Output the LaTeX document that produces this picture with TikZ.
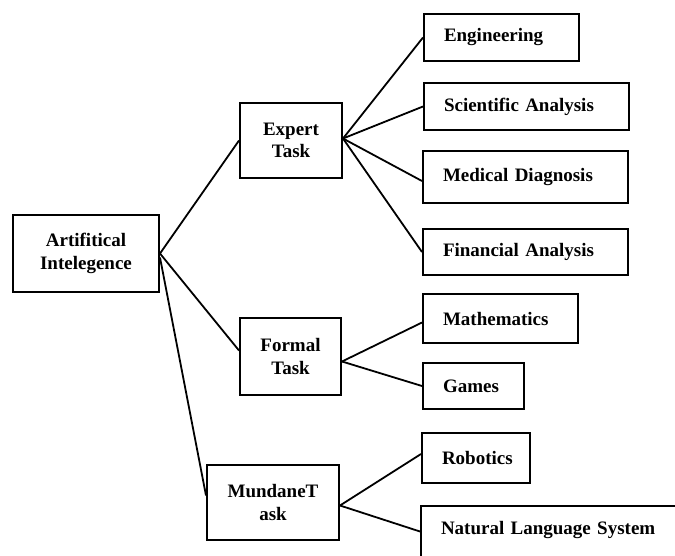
\documentclass[tikz,border=0pt]{standalone}
\usepackage{fontspec}
\setmainfont{Liberation Serif}
\begin{document}
\begin{tikzpicture}[x=1pt,y=1pt,
  every node/.style={font=\fontsize{19}{22.5}\selectfont\bfseries},
  hub/.style={draw, line width=2pt, align=center, inner sep=0pt},
  leaf/.style={draw, line width=2pt, anchor=north west, align=left,
               inner xsep=20pt, inner ysep=0pt, text width=#1},
  link/.style={line width=1.8pt}]
\useasboundingbox (0,0) rectangle (675,-555);
\clip (0,0) rectangle (675,-555);

% root and task groups
\node[hub, minimum width=146, minimum height=77] (AI) at (86,-253.5) {Artifitical\\Intelegence};
\node[hub, minimum width=102, minimum height=75] (Expert) at (291,-140.5) {Expert\\Task};
\node[hub, minimum width=101, minimum height=77] (Formal) at (290.5,-356.5) {Formal\\Task};
\node[hub, minimum width=132, minimum height=75] (Mundane) at (273,-502.5) {MundaneT\\ask};

% application areas
\node[leaf=115, minimum height=47] (Eng) at (423,-13) {Engineering};
\node[leaf=165, minimum height=47] (Sci) at (423,-82) {Scientific Analysis};
\node[leaf=165, minimum height=52] (Med) at (422,-150) {Medical Diagnosis};
\node[leaf=165, minimum height=46] (Fin) at (422,-228) {Financial Analysis};
\node[leaf=115, minimum height=49] (Math) at (422,-293) {Mathematics};
\node[leaf=61, minimum height=46] (Games) at (422,-362) {Games};
\node[leaf=68, minimum height=50] (Rob) at (421,-432) {Robotics};
\node[leaf=250, inner ysep=14pt, text height=14pt, text depth=25pt] (NLS) at (420,-505) {Natural Language System};

% connectors
\draw[link] (AI.east) -- (Expert.west);
\draw[link] (AI.east) -- ([yshift=6]Formal.west);
\draw[link] ([yshift=-4]AI.east) -- ([yshift=7]Mundane.west);

\draw[link] ([yshift=2]Expert.east) -- (Eng.west);
\draw[link] ([yshift=2]Expert.east) -- (Sci.west);
\draw[link] ([yshift=2]Expert.east) -- ([yshift=-4]Med.west);
\draw[link] ([yshift=2]Expert.east) -- (Fin.west);

\draw[link] ([yshift=-5]Formal.east) -- ([yshift=-4]Math.west);
\draw[link] ([yshift=-5]Formal.east) -- (Games.west);

\draw[link] ([yshift=-3]Mundane.east) -- ([yshift=4]Rob.west);
\draw[link] ([yshift=-3]Mundane.east) -- ([yshift=8]NLS.west);
\end{tikzpicture}
\end{document}
